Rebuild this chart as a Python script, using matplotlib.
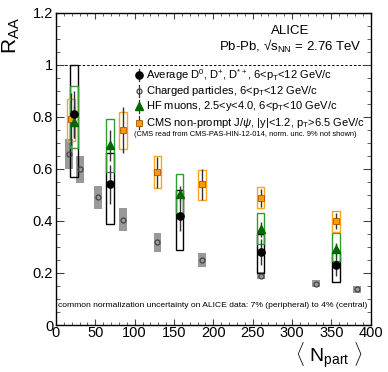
import numpy as np
import matplotlib
matplotlib.use('Agg')
import matplotlib.pyplot as plt
from matplotlib.patches import Rectangle
from matplotlib.lines import Line2D
from matplotlib.ticker import MultipleLocator

plt.rcParams['font.family'] = ['Liberation Sans', 'DejaVu Sans']
plt.rcParams['mathtext.fontset'] = 'custom'
plt.rcParams['mathtext.rm'] = 'Liberation Sans'
plt.rcParams['mathtext.it'] = 'Liberation Sans:italic'

# average D mesons
npart_D = [23, 69, 157, 260, 356]
raa_D = [0.81, 0.54, 0.42, 0.28, 0.23]
stat_D = [0.09, 0.075, 0.06, 0.05, 0.04]
syst_D_hi = [1.00, 0.66, 0.52, 0.35, 0.28]
syst_D_lo = [0.57, 0.39, 0.29, 0.20, 0.165]

# charged particles
npart_h = [16, 30, 53, 85, 129, 186, 261, 330, 383]
raa_h = [0.657, 0.598, 0.49, 0.405, 0.318, 0.25, 0.19, 0.159, 0.137]
syst_h_hi = [0.715, 0.65, 0.534, 0.448, 0.352, 0.278, 0.205, 0.172, 0.15]
syst_h_lo = [0.60, 0.545, 0.445, 0.362, 0.282, 0.222, 0.175, 0.146, 0.124]

# HF muons
npart_mu = [23, 69, 157, 260, 356]
raa_mu = [0.78, 0.69, 0.505, 0.367, 0.292]
stat_mu = [0.06, 0.06, 0.03, 0.03, 0.025]
syst_mu_hi = [0.92, 0.79, 0.58, 0.431, 0.352]
syst_mu_lo = [0.68, 0.587, 0.431, 0.311, 0.247]

# CMS non-prompt J/psi
npart_J = [19, 85, 129, 186, 260, 356]
raa_J = [0.79, 0.749, 0.587, 0.54, 0.489, 0.40]
stat_J = [0.10, 0.09, 0.06, 0.06, 0.035, 0.03]
syst_J_hi = [0.87, 0.82, 0.649, 0.595, 0.529, 0.439]
syst_J_lo = [0.707, 0.676, 0.525, 0.48, 0.448, 0.358]

legend_labels = [r'Average D$^{0}$, D$^{+}$, D$^{*+}$, 6<p$_{\rm T}$<12 GeV/c',
                 r'Charged particles, 6<p$_{\rm T}$<12 GeV/c',
                 r'HF muons, 2.5<y<4.0, 6<p$_{\rm T}$<10 GeV/c',
                 r'CMS non-prompt J/$\psi$, |y|<1.2, p$_{\rm T}$>6.5 GeV/c']

c_gray = '#999999'
c_green = '#339933'
c_dgreen = '#006600'
c_orange = '#ffa31a'
c_orfill = '#ff9900'
hw = 5.0  # half width of syst boxes

fig = plt.figure(figsize=(3.88, 3.72), dpi=100)
ax = fig.add_axes([0.1443, 0.1263, 0.8111, 0.8396])

ax.axhline(1.0, color='k', lw=0.7, ls=(0, (2.5, 2)), zorder=1)

def boxes(x, lo, hi, ec, fc='none', z=2):
    for xi, l, h in zip(x, lo, hi):
        ax.add_patch(Rectangle((xi - hw, l), 2 * hw, h - l, fc=fc, ec=ec, lw=1.0, zorder=z))

boxes(npart_h, syst_h_lo, syst_h_hi, 'none', c_gray, 2)
boxes(npart_D, syst_D_lo, syst_D_hi, 'k', 'none', 3)
boxes(npart_mu, syst_mu_lo, syst_mu_hi, c_green, 'none', 3)
boxes(npart_J, syst_J_lo, syst_J_hi, c_orange, 'none', 3)

ekw = dict(fmt='none', ecolor='#333333', elinewidth=1.0, capsize=0, zorder=4)
ax.errorbar(npart_D, raa_D, yerr=stat_D, **ekw)
ax.errorbar(npart_mu, raa_mu, yerr=stat_mu, **ekw)
ax.errorbar(npart_J, raa_J, yerr=stat_J, **ekw)

ax.plot(npart_h, raa_h, 'o', ms=3.6, mfc='none', mec='#444444', mew=0.9, zorder=5)
ax.plot(npart_J, raa_J, 's', ms=4.8, mfc=c_orfill, mec='#aa5500', mew=0.6, zorder=5)
ax.plot(npart_mu, raa_mu, '^', ms=5.2, mfc=c_dgreen, mec=c_dgreen, zorder=5)
ax.plot(npart_D, raa_D, 'o', ms=5.2, mfc='k', mec='k', zorder=6)

ax.set_xlim(0, 400)
ax.set_ylim(0, 1.2)
ax.xaxis.set_major_locator(MultipleLocator(50))
ax.xaxis.set_minor_locator(MultipleLocator(10))
ax.yaxis.set_minor_locator(MultipleLocator(0.05))
ax.set_yticks([0, 0.2, 0.4, 0.6, 0.8, 1.0, 1.2])
ax.set_yticklabels(['0', '0.2', '0.4', '0.6', '0.8', '1', '1.2'])
ax.tick_params(axis='both', which='both', direction='in', top=True, right=True,
               labelsize=10.5, color='#444444')
ax.tick_params(axis='y', which='major', length=5.8, pad=2)
ax.tick_params(axis='y', which='minor', length=2.9)
ax.tick_params(axis='x', which='major', length=4.3, pad=1.0)
ax.tick_params(axis='x', which='minor', length=2.2)
for s in ax.spines.values():
    s.set_linewidth(1.0)

ax.text(-0.143, 0.986, r'R$_{\rm AA}$', rotation=90, transform=ax.transAxes,
        ha='center', va='top', fontsize=15)
ax.text(0.973, -0.119, r'$\langle\ \mathrm{N}_{\rm part}\ \rangle$', transform=ax.transAxes,
        ha='right', va='baseline', fontsize=14)

ax.text(0.744, 0.942, 'ALICE', transform=ax.transAxes, ha='center', va='center', fontsize=9.5)
ax.text(0.972, 0.893, 'Pb-Pb, \u221a$\\rm s_{NN}$ = 2.76 TeV', transform=ax.transAxes,
        ha='right', va='center', fontsize=9.5)

# legend
leg_y = [0.8005, 0.7493, 0.6997, 0.6484]
mx, tx = 0.264, 0.286
handles = [dict(marker='o', ms=5.2, mfc='k', mec='k'),
           dict(marker='o', ms=3.6, mfc='none', mec='#444444', mew=0.9),
           dict(marker='^', ms=5.2, mfc=c_dgreen, mec=c_dgreen),
           dict(marker='s', ms=4.8, mfc=c_orfill, mec='#aa5500', mew=0.6)]
for y, lab, h in zip(leg_y, legend_labels, handles):
    ax.add_line(Line2D([mx, mx], [y - 0.02, y + 0.02], color='#333333', lw=0.9,
                       transform=ax.transAxes, zorder=7))
    ax.add_line(Line2D([mx], [y], ls='none', transform=ax.transAxes, zorder=8, **h))
    ax.text(tx, y, lab, transform=ax.transAxes, ha='left', va='center', fontsize=8)
ax.text(0.248, 0.6085, '(CMS read from CMS-PAS-HIN-12-014, norm. unc. 9% not shown)',
        transform=ax.transAxes, ha='left', va='center', fontsize=5.45)
ax.text(0.006, 0.062, 'common normalization uncertainty on ALICE data: 7% (peripheral) to 4% (central)',
        transform=ax.transAxes, ha='left', va='center', fontsize=6.1)

fig.savefig('out.png', dpi=100)
